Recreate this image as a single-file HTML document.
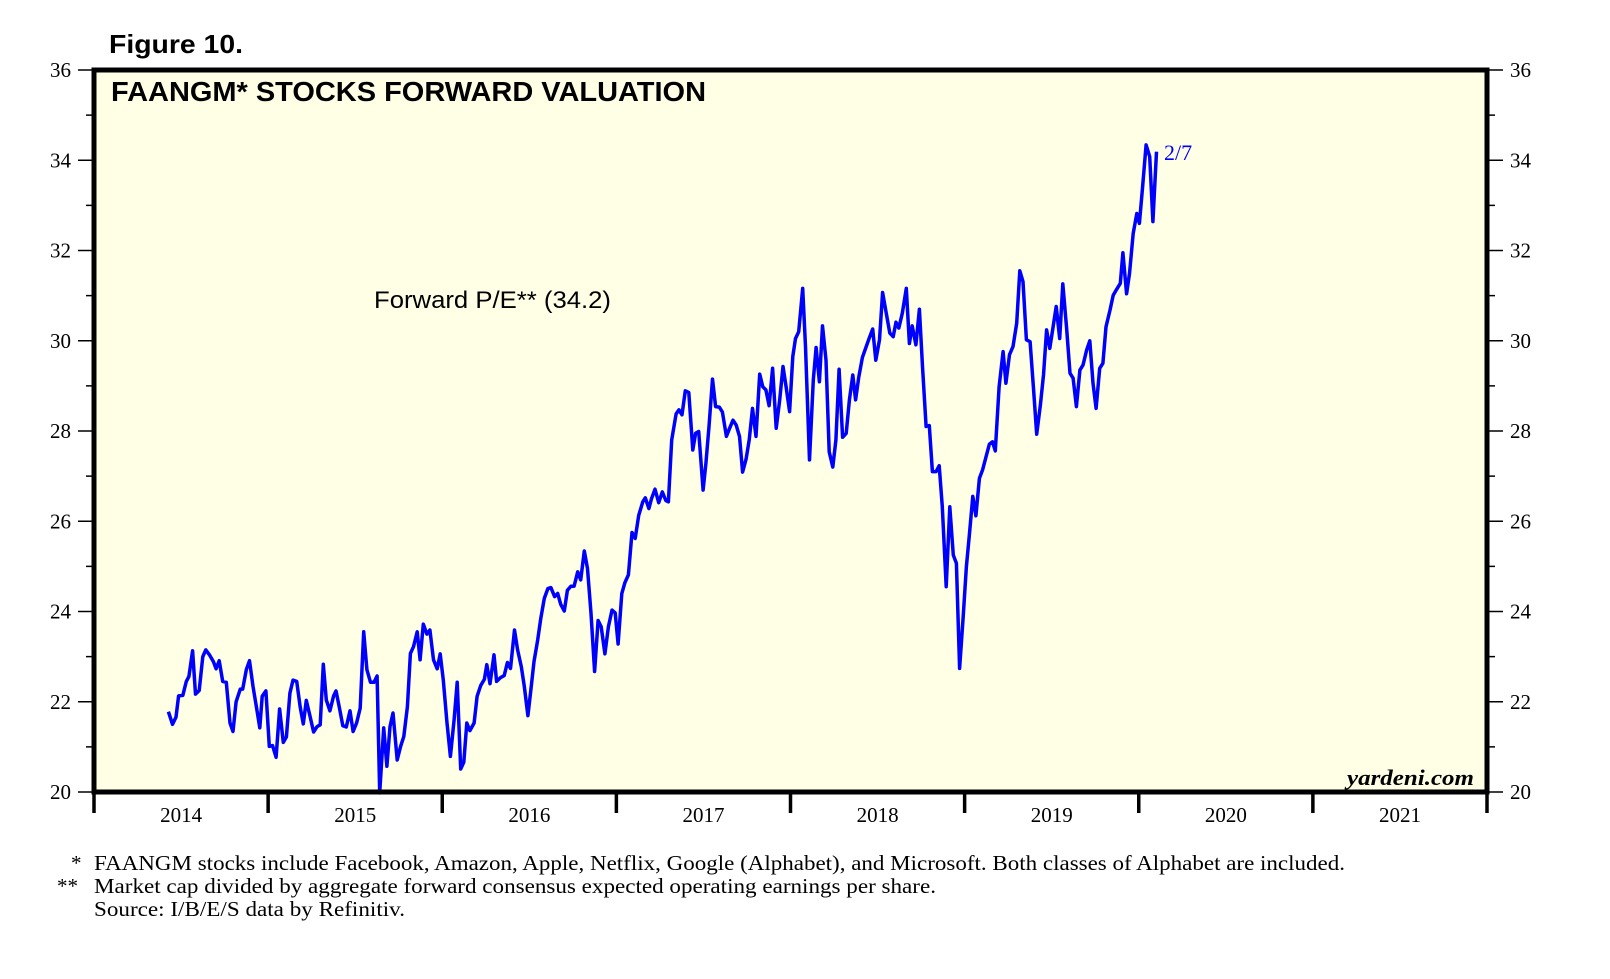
<!DOCTYPE html>
<html><head><meta charset="utf-8"><style>
html,body{margin:0;padding:0;background:#fff;}
svg{display:block;}
</style></head><body>
<svg id="chart" width="1610" height="979" viewBox="0 0 1610 979" xmlns="http://www.w3.org/2000/svg">
<text x="109" y="53" font-family="Liberation Sans, sans-serif" font-weight="bold" font-size="26" textLength="134" lengthAdjust="spacingAndGlyphs">Figure 10.</text>
<rect x="94" y="70" width="1393" height="722" fill="#FFFFE6"/>
<g id="axes"></g>
<text x="111" y="101" font-family="Liberation Sans, sans-serif" font-weight="bold" font-size="28" textLength="595" lengthAdjust="spacingAndGlyphs">FAANGM* STOCKS FORWARD VALUATION</text>
<text x="374" y="308" font-family="Liberation Sans, sans-serif" font-size="24" textLength="237" lengthAdjust="spacingAndGlyphs">Forward P/E** (34.2)</text>
<g id="series"></g>
<text x="1164" y="160" fill="#0000FF" font-family="Liberation Serif, serif" font-size="22">2/7</text>
<text x="1347" y="785" font-family="Liberation Serif, serif" font-style="italic" font-weight="bold" font-size="22" textLength="127" lengthAdjust="spacingAndGlyphs">yardeni.com</text>
<rect x="94" y="70" width="1393" height="722" fill="none" stroke="#000" stroke-width="5"/>
<g font-family="Liberation Serif, serif" font-size="21">
<text x="71" y="870">*</text>
<text x="94" y="870" textLength="1251" lengthAdjust="spacingAndGlyphs">FAANGM stocks include Facebook, Amazon, Apple, Netflix, Google (Alphabet), and Microsoft. Both classes of Alphabet are included.</text>
<text x="57" y="893">**</text>
<text x="94" y="893" textLength="842" lengthAdjust="spacingAndGlyphs">Market cap divided by aggregate forward consensus expected operating earnings per share.</text>
<text x="94" y="916" textLength="311" lengthAdjust="spacingAndGlyphs">Source: I/B/E/S data by Refinitiv.</text>
</g>
</svg>
<script>
const yearTicks = [2014,2015,2016,2017,2018,2019,2020,2021];
const yTicks = [20,22,24,26,28,30,32,34,36];
const dates = [2014.427,2014.451,2014.471,2014.486,2014.510,2014.530,2014.545,2014.566,2014.583,2014.604,2014.625,2014.642,2014.663,2014.686,2014.701,2014.719,2014.739,2014.760,2014.781,2014.798,2014.816,2014.840,2014.854,2014.875,2014.893,2014.913,2014.934,2014.952,2014.966,2014.987,2015.007,2015.025,2015.046,2015.066,2015.087,2015.105,2015.125,2015.143,2015.164,2015.184,2015.202,2015.219,2015.240,2015.261,2015.281,2015.299,2015.317,2015.334,2015.355,2015.376,2015.390,2015.408,2015.429,2015.449,2015.470,2015.488,2015.508,2015.529,2015.549,2015.567,2015.588,2015.608,2015.626,2015.641,2015.664,2015.682,2015.700,2015.717,2015.741,2015.761,2015.779,2015.800,2015.817,2015.835,2015.856,2015.873,2015.891,2015.912,2015.929,2015.950,2015.971,2015.988,2016.006,2016.027,2016.047,2016.068,2016.086,2016.106,2016.124,2016.141,2016.159,2016.183,2016.200,2016.221,2016.242,2016.256,2016.274,2016.297,2016.312,2016.336,2016.356,2016.374,2016.392,2016.415,2016.433,2016.454,2016.471,2016.492,2016.507,2016.527,2016.548,2016.566,2016.586,2016.607,2016.624,2016.645,2016.663,2016.680,2016.701,2016.719,2016.739,2016.757,2016.778,2016.795,2016.816,2016.834,2016.854,2016.875,2016.895,2016.913,2016.934,2016.954,2016.975,2016.993,2017.010,2017.031,2017.049,2017.069,2017.090,2017.108,2017.128,2017.152,2017.166,2017.187,2017.202,2017.222,2017.243,2017.264,2017.284,2017.299,2017.318,2017.343,2017.359,2017.377,2017.396,2017.416,2017.439,2017.455,2017.473,2017.498,2017.514,2017.532,2017.552,2017.570,2017.591,2017.609,2017.632,2017.650,2017.670,2017.688,2017.707,2017.725,2017.745,2017.763,2017.782,2017.802,2017.823,2017.841,2017.859,2017.877,2017.897,2017.918,2017.938,2017.957,2017.975,2017.995,2018.013,2018.029,2018.047,2018.070,2018.086,2018.109,2018.131,2018.147,2018.166,2018.184,2018.204,2018.222,2018.243,2018.261,2018.279,2018.299,2018.320,2018.338,2018.358,2018.374,2018.392,2018.413,2018.433,2018.454,2018.472,2018.490,2018.511,2018.529,2018.547,2018.570,2018.590,2018.606,2018.622,2018.642,2018.665,2018.683,2018.699,2018.720,2018.740,2018.758,2018.779,2018.797,2018.815,2018.836,2018.854,2018.872,2018.894,2018.915,2018.935,2018.953,2018.971,2018.992,2019.010,2019.028,2019.047,2019.065,2019.085,2019.103,2019.121,2019.142,2019.160,2019.176,2019.198,2019.221,2019.237,2019.258,2019.278,2019.299,2019.317,2019.335,2019.355,2019.376,2019.396,2019.414,2019.435,2019.453,2019.471,2019.489,2019.508,2019.526,2019.546,2019.564,2019.585,2019.605,2019.623,2019.642,2019.662,2019.680,2019.701,2019.719,2019.737,2019.755,2019.776,2019.794,2019.812,2019.835,2019.853,2019.870,2019.894,2019.909,2019.930,2019.947,2019.968,2019.989,2020.004,2020.022,2020.042,2020.063,2020.081,2020.102];
const pe = [21.78,21.50,21.66,22.13,22.14,22.45,22.56,23.13,22.17,22.25,23.00,23.15,23.04,22.89,22.73,22.91,22.45,22.43,21.53,21.34,22.00,22.28,22.28,22.72,22.91,22.34,21.86,21.42,22.12,22.24,21.01,21.03,20.77,21.84,21.10,21.22,22.19,22.48,22.45,21.88,21.51,22.03,21.69,21.33,21.45,21.49,22.83,22.04,21.80,22.13,22.24,21.89,21.47,21.44,21.80,21.34,21.53,21.86,23.55,22.71,22.43,22.43,22.57,19.98,21.42,20.57,21.45,21.75,20.71,21.01,21.23,21.89,23.07,23.22,23.55,22.93,23.72,23.50,23.59,22.93,22.73,23.06,22.48,21.53,20.79,21.60,22.43,20.51,20.66,21.53,21.36,21.53,22.12,22.36,22.50,22.82,22.40,23.04,22.45,22.54,22.58,22.87,22.74,23.59,23.15,22.78,22.34,21.69,22.19,22.89,23.37,23.85,24.29,24.51,24.53,24.33,24.40,24.16,24.01,24.47,24.56,24.56,24.88,24.70,25.34,24.95,23.96,22.67,23.80,23.66,23.06,23.66,24.03,23.97,23.28,24.40,24.64,24.81,25.75,25.62,26.13,26.43,26.52,26.28,26.50,26.71,26.41,26.65,26.46,26.43,27.80,28.38,28.47,28.36,28.89,28.85,27.58,27.95,27.99,26.69,27.28,28.10,29.15,28.54,28.53,28.42,27.88,28.06,28.24,28.13,27.88,27.09,27.38,27.80,28.50,27.88,29.26,28.98,28.91,28.56,29.39,28.06,28.69,29.43,28.98,28.43,29.65,30.05,30.20,31.16,29.87,27.36,29.13,29.85,29.09,30.33,29.57,27.54,27.20,27.80,29.37,27.86,27.95,28.69,29.24,28.69,29.20,29.63,29.85,30.08,30.26,29.57,30.02,31.07,30.68,30.17,30.09,30.41,30.28,30.61,31.16,29.94,30.33,29.91,30.70,29.43,28.10,28.12,27.10,27.10,27.23,26.32,24.55,26.32,25.25,25.07,22.74,23.89,25.00,25.73,26.55,26.12,26.95,27.14,27.40,27.71,27.76,27.56,28.98,29.76,29.06,29.69,29.87,30.39,31.55,31.31,30.02,29.98,28.91,27.93,28.58,29.24,30.24,29.83,30.31,30.76,30.05,31.26,30.31,29.28,29.17,28.54,29.35,29.46,29.80,30.00,29.06,28.50,29.39,29.50,30.31,30.68,31.01,31.12,31.27,31.95,31.04,31.49,32.38,32.82,32.60,33.41,34.34,34.08,32.64,34.19];

const NS = 'http://www.w3.org/2000/svg';
const X0 = 94, X1 = 1487, Y0 = 792, Y1 = 70;
function xScale(t){ return X0 + (t - 2014) / 8 * (X1 - X0); }
function yScale(v){ return Y0 - (v - 20) / 16 * (Y0 - Y1); }
function mk(tag, attrs, parent){ const e = document.createElementNS(NS, tag); for (const k in attrs) e.setAttribute(k, attrs[k]); parent.appendChild(e); return e; }

const axes = document.getElementById('axes');
// y ticks (major + minor) both sides
for (let v = 20; v <= 36; v += 1) {
  const y = yScale(v);
  const major = v % 2 === 0;
  const lt = mk('line', {x1: X0 - (major ? 16 : 8), x2: X0, y1: y, y2: y, stroke: '#000', 'stroke-width': 1.5}, axes);
  
  
  const rt = mk('line', {x1: X1, x2: X1 + (major ? 16 : 8), y1: y, y2: y, stroke: '#000', 'stroke-width': 1.5}, axes);
  
  
}
yTicks.forEach(v => {
  const y = yScale(v);
  const l = mk('text', {x: 71, y: y + 7, 'text-anchor': 'end', 'font-family': 'Liberation Serif, serif', 'font-size': 21}, axes);
  l.textContent = v;
  
  
  const r = mk('text', {x: 1510, y: y + 7, 'font-family': 'Liberation Serif, serif', 'font-size': 21}, axes);
  r.textContent = v;
  
  
});
// x ticks
for (let k = 0; k <= yearTicks.length; k++) {
  const x = xScale(2014 + k);
  const t = mk('line', {x1: x, x2: x, y1: Y0, y2: 813, stroke: '#000', 'stroke-width': 3.5}, axes);
  
  
}
yearTicks.forEach(yr => {
  const lbl = mk('text', {x: xScale(yr + 0.5), y: 822, 'text-anchor': 'middle', 'font-family': 'Liberation Serif, serif', 'font-size': 21}, axes);
  lbl.textContent = yr;
  
  
});

// series
const series = document.getElementById('series');
let d = '';
dates.forEach((t, i) => { d += (i ? 'L' : 'M') + xScale(t).toFixed(1) + ',' + yScale(pe[i]).toFixed(1); });
const line = mk('path', {d: d, fill: 'none', stroke: '#0000FF', 'stroke-width': 3.5, 'stroke-linejoin': 'round'}, series);


</script>
</body></html>
